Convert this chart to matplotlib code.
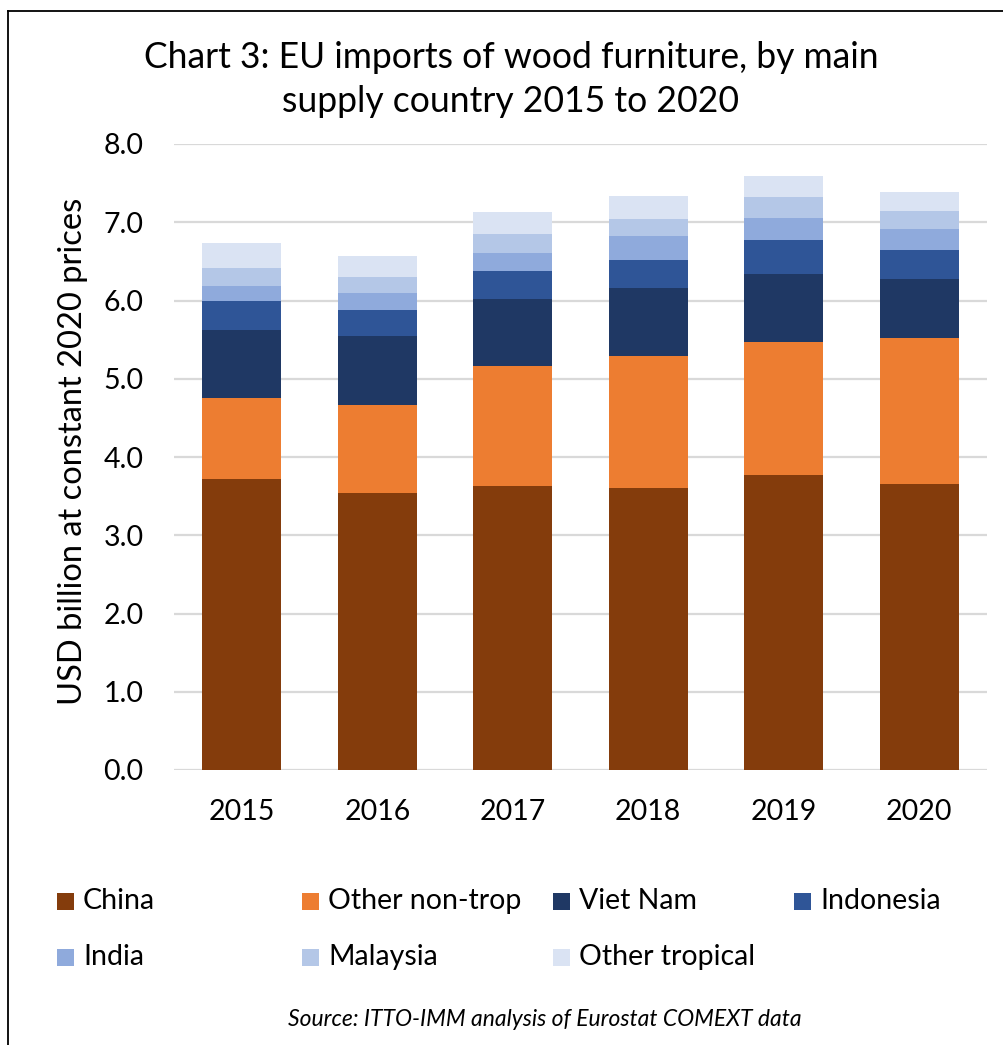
import matplotlib
matplotlib.use("Agg")
import matplotlib.pyplot as plt
from matplotlib.patches import Rectangle
from matplotlib.lines import Line2D
import numpy as np

plt.rcParams['font.family'] = ['Lato', 'DejaVu Sans']

years = ['2015', '2016', '2017', '2018', '2019', '2020']
series = ['China', 'Other non-trop', 'Viet Nam', 'Indonesia', 'India', 'Malaysia', 'Other tropical']
china = [3.72, 3.54, 3.63, 3.60, 3.77, 3.65]
other_non_trop = [1.03, 1.13, 1.53, 1.69, 1.70, 1.87]
viet_nam = [0.87, 0.87, 0.86, 0.87, 0.87, 0.75]
indonesia = [0.37, 0.34, 0.36, 0.36, 0.43, 0.37]
india = [0.20, 0.22, 0.23, 0.30, 0.29, 0.28]
malaysia = [0.23, 0.20, 0.24, 0.22, 0.26, 0.22]
other_tropical = [0.31, 0.27, 0.28, 0.29, 0.27, 0.25]
colors = ['#843C0C', '#ED7D31', '#1F3864', '#2F5597', '#8FAADC', '#B4C7E7', '#DAE3F3']

values = [china, other_non_trop, viet_nam, indonesia, india, malaysia, other_tropical]

W, H = 1004, 1045
fig = plt.figure(figsize=(W / 100, H / 100), dpi=100)

# plot area in pixel terms
left, right, top, bottom = 174, 987, 144, 770
ax = fig.add_axes([left / W, 1 - bottom / H, (right - left) / W, (bottom - top) / H])

x = np.arange(len(years))
base = np.zeros(len(years))
for vals, col in zip(values, colors):
    ax.bar(x, vals, bottom=base, width=0.585, color=col, linewidth=0, zorder=3)
    base += np.array(vals)

ax.set_xlim(-0.5, len(years) - 0.5)
ax.set_ylim(0, 8)
ax.set_yticks(np.arange(0, 8.01, 1.0))
ax.set_yticklabels([f'{v:.1f}' for v in np.arange(0, 8.01, 1.0)])
ax.set_xticks(x)
ax.set_xticklabels(years)
ax.tick_params(axis='both', length=0, labelsize=20.5, colors='#000000')
ax.tick_params(axis='y', pad=22)
ax.tick_params(axis='x', pad=21)
ax.grid(axis='y', color='#d9d9d9', linewidth=1.6, zorder=0)
for s in ax.spines.values():
    s.set_visible(False)

fig.text(73 / W, 1 - 451 / H, 'USD billion at constant 2020 prices', rotation=90,
         ha='center', va='center', fontsize=23.5)

fig.text(511 / W, 1 - 57 / H, 'Chart 3: EU imports of wood furniture, by main',
         ha='center', va='center', fontsize=25.6)
fig.text(511 / W, 1 - 101 / H, 'supply country 2015 to 2020',
         ha='center', va='center', fontsize=25.6)

# legend, laid out like the Excel one: 4 columns, 2 rows
col_x = [57, 302, 553, 794]
row_y = [901, 957]
sq = 17
for i, (name, col) in enumerate(zip(series, colors)):
    cx = col_x[i % 4]
    cy = row_y[i // 4]
    fig.patches.append(Rectangle((cx / W, 1 - (cy + sq / 2) / H), sq / W, sq / H,
                                 transform=fig.transFigure, facecolor=col,
                                 edgecolor='none'))
    fig.text((cx + sq + 9) / W, 1 - cy / H, name, ha='left', va='center', fontsize=20.5)

fig.text(545 / W, 1 - 1020 / H, 'Source: ITTO-IMM analysis of Eurostat COMEXT data',
         ha='center', va='center', fontsize=16.5, style='italic')

# outer border (left and top edges visible)
fig.add_artist(Line2D([8 / W, 8 / W], [0, 1 - 11 / H], transform=fig.transFigure,
                      color='black', linewidth=1.3))
fig.add_artist(Line2D([8 / W, 1], [1 - 11 / H, 1 - 11 / H], transform=fig.transFigure,
                      color='black', linewidth=1.3))

fig.savefig('out.png', dpi=100, facecolor='white')
